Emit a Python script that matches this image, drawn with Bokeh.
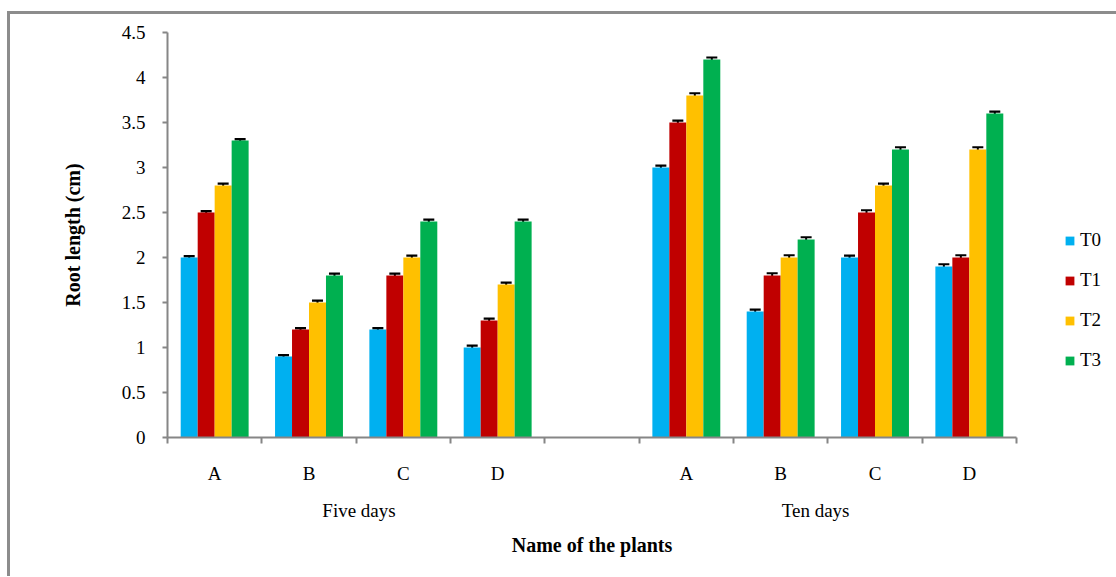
from bokeh.plotting import figure
from bokeh.models import (ColumnDataSource, Range1d, FixedTicker, LinearAxis, Whisker,
                          TeeHead, Legend, LegendItem, CustomJSTickFormatter)
from bokeh.embed import file_html
from bokeh.resources import INLINE

# ---- data ----
periods = ["Five days", "Ten days"]
plants = ["A", "B", "C", "D"]
series = ["T0", "T1", "T2", "T3"]
colors = ["#00B0F0", "#C00000", "#FFC000", "#00B050"]

# values per series, ordered Five days A-D then Ten days A-D
T0 = [2.0, 0.9, 1.2, 1.0, 3.0, 1.4, 2.0, 1.9]
T1 = [2.5, 1.2, 1.8, 1.3, 3.5, 1.8, 2.5, 2.0]
T2 = [2.8, 1.5, 2.0, 1.7, 3.8, 2.0, 2.8, 3.2]
T3 = [3.3, 1.8, 2.4, 2.4, 4.2, 2.2, 3.2, 3.6]
E0 = [0.015, 0.015, 0.015, 0.02, 0.02, 0.02, 0.02, 0.025]
E1 = [0.015, 0.015, 0.02, 0.02, 0.02, 0.025, 0.025, 0.025]
E2 = [0.02, 0.02, 0.02, 0.02, 0.025, 0.025, 0.02, 0.025]
E3 = [0.015, 0.02, 0.02, 0.02, 0.022, 0.025, 0.025, 0.02]
values = [T0, T1, T2, T3]
errors = [E0, E1, E2, E3]

yticks = [0, 0.5, 1, 1.5, 2, 2.5, 3, 3.5, 4, 4.5]

FONT = "Liberation Serif"
AXIS_COLOR = "#868686"
TICK_FS = "19px"
TITLE_FS = "20px"

# slot positions: 4 plants, an empty slot, 4 plants
slots = [0, 1, 2, 3, 5, 6, 7, 8]
bar_w = 0.18

p = figure(width=1105, height=562, frame_width=849, frame_height=405,
           output_backend="svg", toolbar_location=None,
           x_range=Range1d(0, 9), y_range=Range1d(0, 4.5),
           min_border_left=157, min_border_right=99, min_border_top=18, min_border_bottom=139,
           x_axis_location=None)
p.margin = (11, 0, 0, 7)
p.styles = {"border-top": "3px solid #8c8c8c", "border-left": "3px solid #8c8c8c"}
p.outline_line_color = None
p.xgrid.visible = False
p.ygrid.visible = False
p.background_fill_color = "white"
p.border_fill_color = "white"

legend_items = []
for i, (name, col, vals, errs) in enumerate(zip(series, colors, values, errors)):
    xs = [s + 0.5 + (i - 1.5) * bar_w for s in slots]
    src = ColumnDataSource(dict(x=xs, top=vals,
                                upper=[v + e for v, e in zip(vals, errs)],
                                lower=[v - e for v, e in zip(vals, errs)]))
    r = p.vbar(x="x", top="top", width=bar_w, bottom=0, source=src,
               fill_color=col, line_color=None)
    legend_items.append(LegendItem(label=name, renderers=[r]))
    w = Whisker(base="x", upper="upper", lower="lower", source=src,
                line_color="black", line_width=2,
                upper_head=TeeHead(size=11, line_color="black", line_width=2.2),
                lower_head=TeeHead(size=11, line_color="black", line_width=2.2))
    p.add_layout(w)

# y axis
ya = p.yaxis[0]
ya.ticker = FixedTicker(ticks=yticks)
ya.formatter = CustomJSTickFormatter(code="return String(Math.round(tick*10)/10);")
ya.axis_line_color = AXIS_COLOR
ya.axis_line_width = 2
ya.major_tick_line_color = AXIS_COLOR
ya.major_tick_line_width = 2
ya.major_tick_out = 5
ya.major_tick_in = 0
ya.minor_tick_line_color = None
ya.major_label_text_font = FONT
ya.major_label_text_font_size = TICK_FS
ya.major_label_text_color = "black"
ya.major_label_standoff = 17
ya.axis_label = "Root length (cm)"
ya.axis_label_text_font = FONT
ya.axis_label_text_font_style = "bold"
ya.axis_label_text_font_size = TITLE_FS
ya.axis_label_text_color = "black"
ya.axis_label_standoff = 35

# x axis: plant labels at slot centres, tick marks at slot boundaries
centers = [s + 0.5 for s in slots]
xa = LinearAxis(ticker=FixedTicker(ticks=centers, minor_ticks=list(range(10))),
                major_label_overrides={c: lab for c, lab in zip(centers, plants * 2)})
xa.axis_line_color = AXIS_COLOR
xa.axis_line_width = 2
xa.major_tick_line_color = None
xa.major_tick_out = 0
xa.major_tick_in = 0
xa.minor_tick_line_color = AXIS_COLOR
xa.minor_tick_line_width = 2
xa.minor_tick_out = 6
xa.minor_tick_in = 0
xa.major_label_text_font = FONT
xa.major_label_text_font_size = TICK_FS
xa.major_label_text_color = "black"
xa.major_label_standoff = 19
p.add_layout(xa, "below")

# second x axis: period labels
period_pos = [2.03, 6.87]
xa2 = LinearAxis(ticker=FixedTicker(ticks=period_pos),
                 major_label_overrides={c: lab for c, lab in zip(period_pos, periods)})
xa2.axis_line_color = None
xa2.major_tick_line_color = None
xa2.minor_tick_line_color = None
xa2.major_label_text_font = FONT
xa2.major_label_text_font_size = TICK_FS
xa2.major_label_text_color = "black"
xa2.major_label_standoff = 7
xa2.axis_label = "Name of the plants"
xa2.axis_label_text_font = FONT
xa2.axis_label_text_font_style = "bold"
xa2.axis_label_text_font_size = TITLE_FS
xa2.axis_label_text_color = "black"
xa2.axis_label_standoff = 10
p.add_layout(xa2, "below")

legend = Legend(items=legend_items, location=(48, 66), orientation="vertical",
                glyph_width=11, glyph_height=11, label_height=22, spacing=18,
                label_text_font=FONT, label_text_font_size=TICK_FS, label_text_color="black",
                label_standoff=5, padding=0, margin=0,
                background_fill_alpha=0, border_line_color=None)
p.add_layout(legend, "right")

open("out.html", "w").write(file_html(p, INLINE))
